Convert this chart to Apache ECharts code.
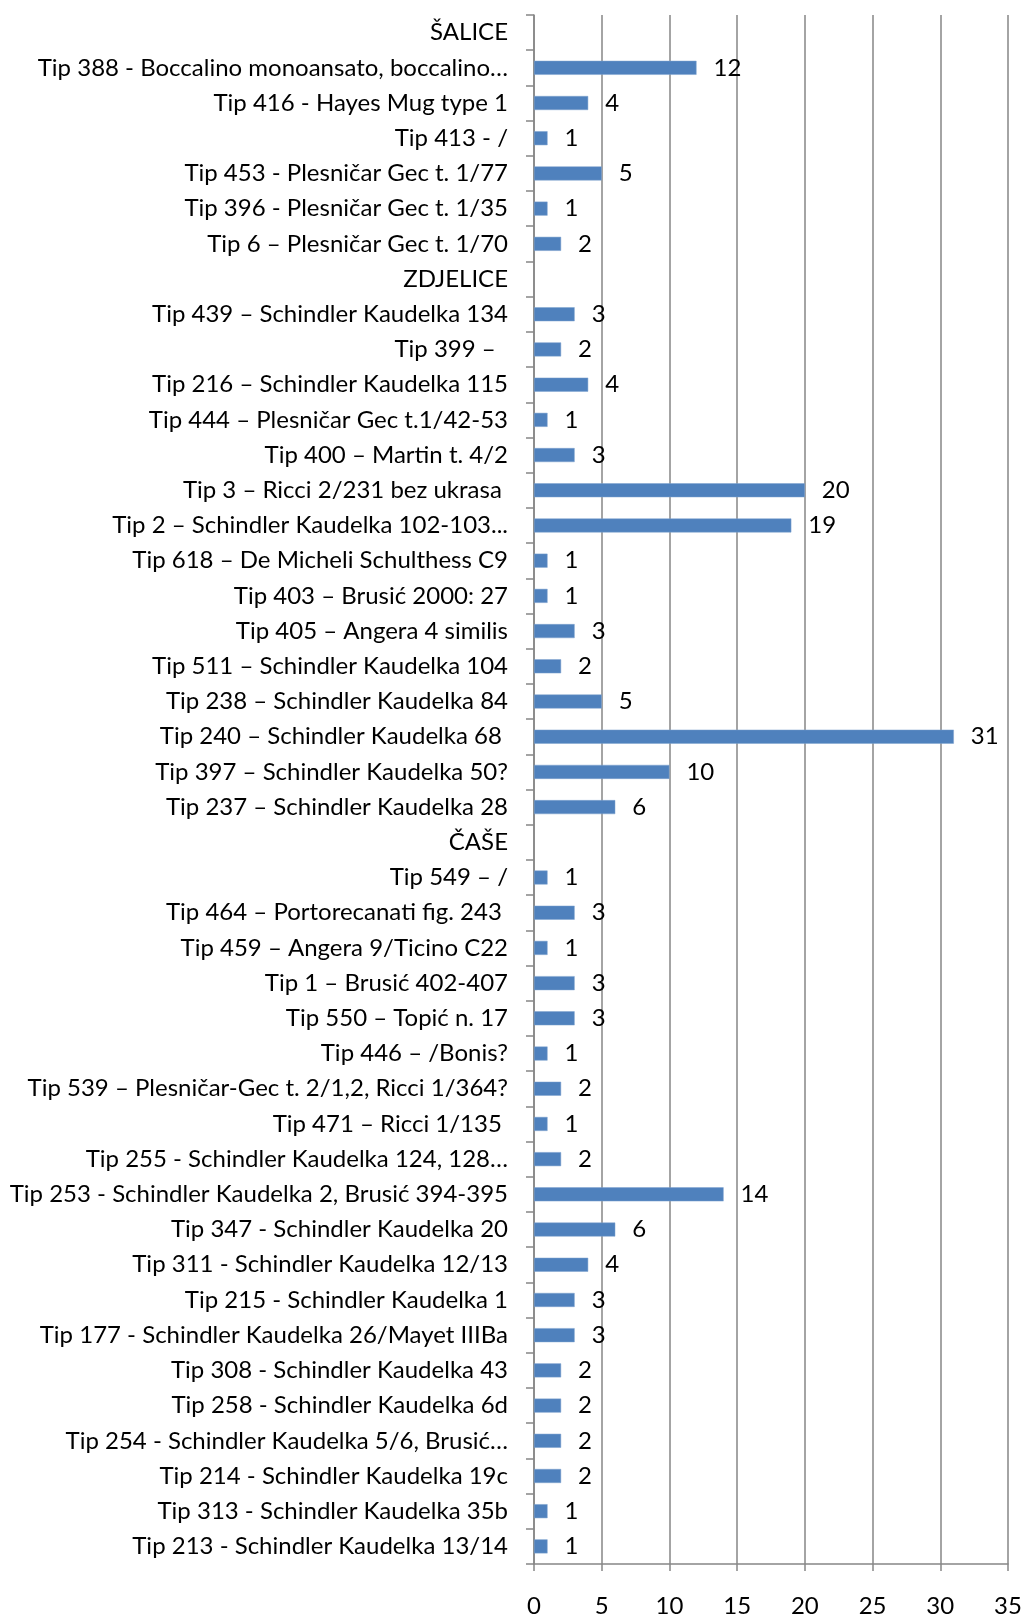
<!DOCTYPE html>
<html>
<head>
<meta charset="utf-8">
<script src="https://cdn.jsdelivr.net/npm/echarts@6/dist/echarts.min.js"></script>
<style>
  html, body { margin: 0; padding: 0; background: #fff; }
  #chart { width: 1030px; height: 1618px; }
</style>
</head>
<body>
<div id="chart"></div>
<script>
// Pottery types by group (top to bottom); group headers carry no count
const categories = [
  'ŠALICE',
  'Tip 388 - Boccalino monoansato, boccalino…',
  'Tip 416 - Hayes Mug type 1',
  'Tip 413 - /',
  'Tip 453 - Plesničar Gec t. 1/77',
  'Tip 396 - Plesničar Gec t. 1/35',
  'Tip 6 – Plesničar Gec t. 1/70',
  'ZDJELICE',
  'Tip 439 – Schindler Kaudelka 134',
  'Tip 399 –  ',
  'Tip 216 – Schindler Kaudelka 115',
  'Tip 444 – Plesničar Gec t.1/42-53',
  'Tip 400 – Martin t. 4/2',
  'Tip 3 – Ricci 2/231 bez ukrasa ',
  'Tip 2 – Schindler Kaudelka 102-103...',
  'Tip 618 – De Micheli Schulthess C9',
  'Tip 403 – Brusić 2000: 27',
  'Tip 405 – Angera 4 similis',
  'Tip 511 – Schindler Kaudelka 104',
  'Tip 238 – Schindler Kaudelka 84',
  'Tip 240 – Schindler Kaudelka 68 ',
  'Tip 397 – Schindler Kaudelka 50?',
  'Tip 237 – Schindler Kaudelka 28',
  'ČAŠE',
  'Tip 549 – /',
  'Tip 464 – Portorecanati fig. 243 ',
  'Tip 459 – Angera 9/Ticino C22',
  'Tip 1 – Brusić 402-407',
  'Tip 550 – Topić n. 17',
  'Tip 446 – /Bonis?',
  'Tip 539 – Plesničar-Gec t. 2/1,2, Ricci 1/364?',
  'Tip 471 – Ricci 1/135 ',
  'Tip 255 - Schindler Kaudelka 124, 128…',
  'Tip 253 - Schindler Kaudelka 2, Brusić 394-395',
  'Tip 347 - Schindler Kaudelka 20',
  'Tip 311 - Schindler Kaudelka 12/13',
  'Tip 215 - Schindler Kaudelka 1',
  'Tip 177 - Schindler Kaudelka 26/Mayet IIIBa',
  'Tip 308 - Schindler Kaudelka 43',
  'Tip 258 - Schindler Kaudelka 6d',
  'Tip 254 - Schindler Kaudelka 5/6, Brusić…',
  'Tip 214 - Schindler Kaudelka 19c',
  'Tip 313 - Schindler Kaudelka 35b',
  'Tip 213 - Schindler Kaudelka 13/14'
];

const counts = [
  null, 12, 4, 1, 5, 1, 2,
  null, 3, 2, 4, 1, 3, 20, 19, 1, 1, 3, 2, 5, 31, 10, 6,
  null, 1, 3, 1, 3, 3, 1, 2, 1, 2, 14, 6, 4, 3, 3, 2, 2, 2, 2, 1, 1
];

const valueTicks = { min: 0, max: 35, interval: 5 };

const FONT = 'Lato, "Open Sans", "DejaVu Sans", sans-serif';
const FONT_SIZE = 24;
const chart = echarts.init(document.getElementById('chart'), null, { renderer: 'canvas' });

chart.setOption({
  animation: false,
  backgroundColor: '#ffffff',
  grid: { left: 534, right: 22, top: 15, bottom: 53, containLabel: false },
  xAxis: {
    type: 'value',
    min: valueTicks.min,
    max: valueTicks.max,
    interval: valueTicks.interval,
    axisLine: { show: true, lineStyle: { color: '#868686', width: 1.5 } },
    axisTick: { show: true, length: 7, lineStyle: { color: '#868686', width: 1.5 } },
    splitLine: { show: true, lineStyle: { color: '#868686', width: 1.5 } },
    axisLabel: { color: '#000', fontFamily: FONT, fontSize: FONT_SIZE, margin: 30 }
  },
  yAxis: {
    type: 'category',
    inverse: true,
    data: categories,
    axisLine: { show: true, lineStyle: { color: '#868686', width: 1.5 } },
    axisTick: { show: true, length: 8, alignWithLabel: false, lineStyle: { color: '#868686', width: 1.5 } },
    splitLine: { show: false },
    axisLabel: { color: '#000', fontFamily: FONT, fontSize: FONT_SIZE, margin: 26, interval: 0 }
  },
  series: [{
    type: 'bar',
    data: counts,
    barWidth: 14,
    itemStyle: { color: '#4f81bd', borderColor: '#7fa2cf', borderWidth: 0.5 },
    label: {
      show: true,
      position: 'right',
      distance: 17,
      color: '#000',
      fontFamily: FONT,
      fontSize: FONT_SIZE
    }
  }]
});
</script>
</body>
</html>
